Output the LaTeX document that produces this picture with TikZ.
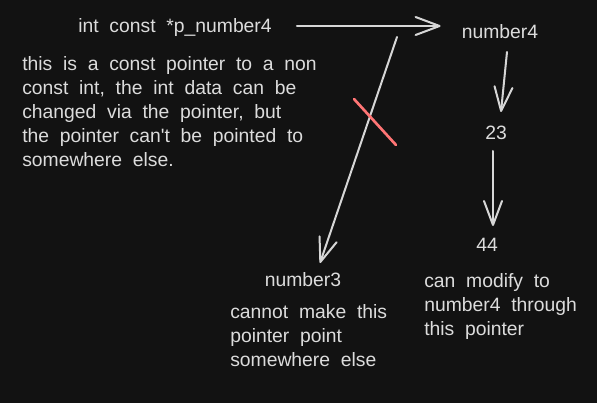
\documentclass[tikz,border=0pt]{standalone}
\usepackage{fontspec}
\setmainfont{Liberation Sans}[WordSpace=2, Ligatures=TeXOff]
\usetikzlibrary{arrows.meta,calc}
\definecolor{bg}{HTML}{121212}
\definecolor{ink}{HTML}{DCDCDC}
\definecolor{stroke}{HTML}{D6D6D6}
\definecolor{cross}{HTML}{FF7575}
\tikzset{
  lbl/.style={text=ink, inner sep=0pt, font=\fontsize{14.5}{18}\selectfont},
  blk/.style={lbl, align=left, anchor=north west},
  arr/.style={draw=stroke, line width=1.5pt, line cap=round,
    -{Straight Barb[length=18pt,width=13.5pt,line cap=round,line join=round]}},
}
\begin{document}
\begin{tikzpicture}[x=0.75pt,y=-0.75pt]
\fill[bg] (0,0) rectangle (597,403);
\useasboundingbox (0,0) rectangle (597,403);

\node[lbl, anchor=base] (title) at (175,33) {int const *p\_number4};
\node[lbl, anchor=base] (number4) at (500,39) {number4};
\node[lbl, anchor=base] (n23) at (496,140) {23};
\node[lbl, anchor=base] (n44) at (487,252) {44};
\node[lbl, anchor=base] (number3) at (303,286) {number3};

\node[blk] (desc) at (22,56) {this is a const pointer to a non\\const int, the int data can be\\changed via the pointer, but\\the pointer can't be pointed to\\somewhere else.};
\node[blk] (cannot) at (230,304) {cannot make this\\pointer point\\somewhere else};
\node[blk] (canmod) at (424,273) {can modify to\\number4 through\\this pointer};

\draw[arr] ($(title.base east)+(25,-7)$) -- ($(title.base east -| number4.west)+(-21,-7)$);
\draw[arr] ($(number4.base)+(7,13)$) -- ($(n23.base)+(5,-28)$);
\draw[arr] ($(n23.base)+(-3,11)$) -- ($(n44.base)+(6,-26)$);
\coordinate (src) at (397,37);
\draw[arr] (src) -- ($(number3.base)+(17,-23)$);

\draw[cross, line width=2pt, line cap=round] (354,99) -- (396,145);
\end{tikzpicture}
\end{document}
